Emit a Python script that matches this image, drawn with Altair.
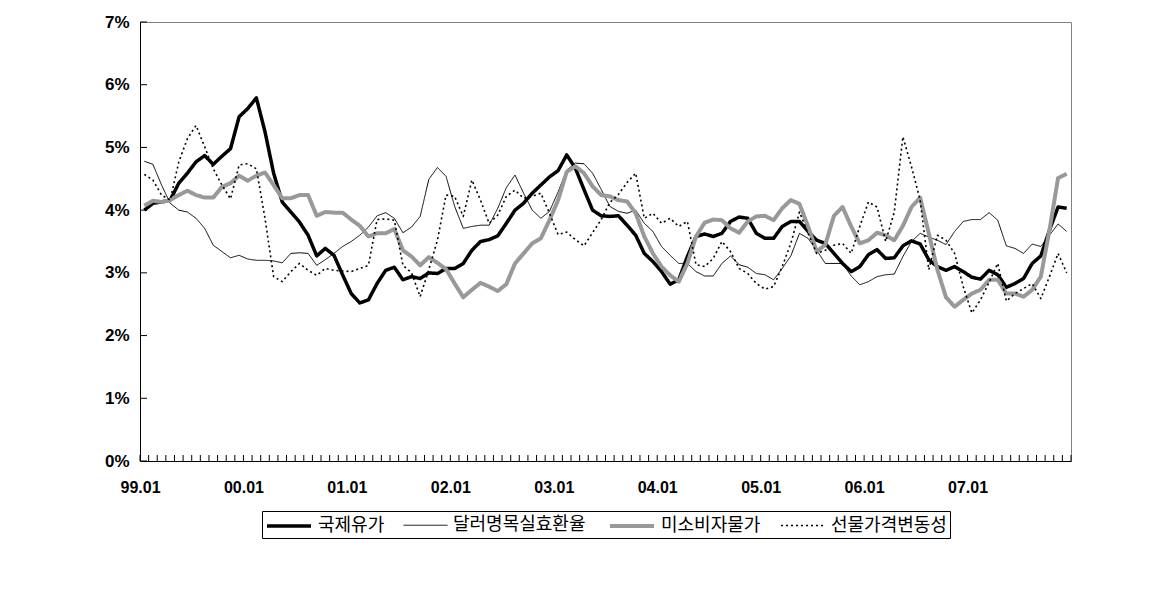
import altair as alt
import pandas as pd

series_names = ["국제유가", "달러명목실효환율", "미소비자물가", "선물가격변동성"]
year_labels = ["99.01", "00.01", "01.01", "02.01", "03.01", "04.01", "05.01", "06.01", "07.01"]

oil = [4.00, 4.11, 4.13, 4.16, 4.43, 4.59, 4.77, 4.87, 4.73, 4.86, 4.98, 5.49,
       5.62, 5.79, 5.25, 4.59, 4.13, 3.97, 3.81, 3.60, 3.27, 3.39, 3.28, 2.97,
       2.67, 2.52, 2.57, 2.83, 3.04, 3.09, 2.89, 2.94, 2.91, 3.00, 2.99, 3.07,
       3.07, 3.15, 3.36, 3.50, 3.53, 3.59, 3.79, 4.00, 4.11, 4.27, 4.40, 4.53,
       4.63, 4.88, 4.67, 4.33, 4.00, 3.91, 3.90, 3.91, 3.76, 3.60, 3.31, 3.18,
       3.02, 2.82, 2.89, 3.26, 3.58, 3.62, 3.58, 3.63, 3.82, 3.89, 3.87, 3.63,
       3.55, 3.55, 3.74, 3.82, 3.82, 3.66, 3.52, 3.47, 3.31, 3.15, 3.02, 3.10,
       3.29, 3.37, 3.23, 3.24, 3.43, 3.51, 3.46, 3.21, 3.10, 3.04, 3.10, 3.02,
       2.93, 2.90, 3.04, 2.97, 2.77, 2.83, 2.91, 3.15, 3.27, 3.68, 4.05, 4.03]

dollar = [4.78, 4.73, 4.40, 4.11, 4.00, 3.97, 3.87, 3.71, 3.44, 3.34, 3.24, 3.28,
          3.22, 3.20, 3.20, 3.19, 3.16, 3.31, 3.32, 3.31, 3.12, 3.21, 3.31, 3.42,
          3.50, 3.60, 3.73, 3.91, 3.96, 3.87, 3.64, 3.73, 3.90, 4.49, 4.68, 4.54,
          4.06, 3.71, 3.74, 3.76, 3.76, 4.03, 4.36, 4.56, 4.27, 4.00, 3.87, 3.98,
          4.29, 4.64, 4.75, 4.74, 4.59, 4.33, 4.06, 3.98, 3.95, 4.00, 3.79, 3.66,
          3.42, 3.28, 3.15, 3.15, 3.02, 2.95, 2.95, 3.15, 3.27, 3.13, 3.09, 2.99,
          2.97, 2.89, 3.07, 3.27, 3.63, 3.55, 3.36, 3.15, 3.15, 3.15, 2.95, 2.81,
          2.86, 2.94, 2.97, 2.98, 3.26, 3.50, 3.63, 3.57, 3.52, 3.45, 3.66, 3.82,
          3.85, 3.85, 3.96, 3.84, 3.43, 3.39, 3.31, 3.46, 3.42, 3.60, 3.78, 3.66]

cpi = [4.07, 4.15, 4.13, 4.16, 4.24, 4.31, 4.24, 4.20, 4.20, 4.37, 4.43, 4.55,
       4.47, 4.55, 4.60, 4.40, 4.19, 4.19, 4.24, 4.24, 3.91, 3.97, 3.96, 3.96,
       3.85, 3.75, 3.58, 3.63, 3.63, 3.70, 3.36, 3.26, 3.12, 3.25, 3.16, 3.06,
       2.83, 2.61, 2.73, 2.84, 2.78, 2.71, 2.82, 3.15, 3.31, 3.47, 3.55, 3.84,
       4.16, 4.61, 4.70, 4.59, 4.38, 4.24, 4.22, 4.16, 4.14, 3.95, 3.58, 3.31,
       3.10, 2.96, 2.86, 3.15, 3.58, 3.80, 3.85, 3.84, 3.71, 3.64, 3.82, 3.90,
       3.91, 3.84, 4.03, 4.16, 4.10, 3.74, 3.34, 3.45, 3.91, 4.05, 3.74, 3.47,
       3.52, 3.64, 3.60, 3.52, 3.75, 4.05, 4.20, 3.63, 3.05, 2.61, 2.46, 2.57,
       2.67, 2.73, 2.89, 2.89, 2.67, 2.67, 2.62, 2.73, 2.94, 3.68, 4.51, 4.58]

futures = [4.57, 4.48, 4.24, 4.16, 4.77, 5.14, 5.35, 5.01, 4.66, 4.40, 4.18, 4.72,
           4.74, 4.66, 3.87, 2.94, 2.86, 3.02, 3.15, 3.04, 2.96, 3.07, 3.04, 3.03,
           3.02, 3.07, 3.12, 3.85, 3.86, 3.84, 3.12, 3.00, 2.62, 3.05, 3.52, 4.24,
           4.22, 3.90, 4.48, 4.16, 3.79, 3.92, 4.22, 4.32, 4.19, 4.22, 4.27, 3.95,
           3.61, 3.65, 3.53, 3.43, 3.64, 3.85, 4.12, 4.25, 4.44, 4.59, 3.87, 3.95,
           3.79, 3.87, 3.74, 3.82, 3.13, 3.10, 3.23, 3.50, 3.34, 3.07, 2.99, 2.83,
           2.74, 2.78, 3.10, 3.47, 3.97, 3.63, 3.31, 3.36, 3.44, 3.47, 3.31, 3.74,
           4.13, 4.05, 3.50, 3.97, 5.17, 4.69, 4.16, 3.05, 3.60, 3.52, 3.31, 2.78,
           2.36, 2.57, 2.85, 3.15, 2.55, 2.67, 2.75, 2.83, 2.59, 2.94, 3.31, 3.00]

line_colors = ["#000000", "#000000", "#999999", "#000000"]
line_widths = [3.5, 1, 4, 1.6]
line_dashes = [[1, 0], [1, 0], [1, 0], [2, 3]]

n = len(oil)
rows = []
for name, vals in zip(series_names, [oil, dollar, cpi, futures]):
    for i, v in enumerate(vals):
        rows.append({"t": i, "series": name, "value": v})
df = pd.DataFrame(rows)

xticks = pd.DataFrame({"t": [k - 0.5 for k in range(n + 1)]})
yticks = pd.DataFrame({"value": list(range(8))})

W, H = 931, 439
xscale = alt.Scale(domain=[-0.5, n - 0.5], nice=False, zero=False)
yscale = alt.Scale(domain=[0, 7], nice=False)

label_arr = "[" + ",".join("'%s'" % s for s in year_labels) + "]"

x_axis = alt.Axis(values=[12 * k - 0.5 for k in range(len(year_labels))],
                  labelExpr=label_arr + "[round((datum.value + 0.5) / 12)]",
                  ticks=False, tickSize=0, grid=False, domainColor="black",
                  labelFont="Liberation Sans", labelFontWeight="bold",
                  labelFontSize=16, labelColor="black", labelPadding=18,
                  labelFlush=False, labelOverlap=False, title=None)
y_axis = alt.Axis(values=list(range(8)), labelExpr="datum.value + '%'",
                  ticks=False, tickSize=0, grid=False, domainColor="black",
                  labelFont="Liberation Sans", labelFontWeight="bold",
                  labelFontSize=17, labelColor="black", labelPadding=11, title=None)

lines = alt.Chart(df).mark_line(strokeJoin="round").encode(
    x=alt.X("t:Q", scale=xscale, axis=x_axis),
    y=alt.Y("value:Q", scale=yscale, axis=y_axis),
    color=alt.Color("series:N", scale=alt.Scale(domain=series_names, range=line_colors),
                    legend=alt.Legend(title=None)),
    strokeWidth=alt.StrokeWidth("series:N",
                                scale=alt.Scale(type="ordinal", domain=series_names, range=line_widths),
                                legend=alt.Legend(title=None)),
    strokeDash=alt.StrokeDash("series:N", scale=alt.Scale(domain=series_names, range=line_dashes),
                              legend=alt.Legend(title=None)),
    order=alt.Order("t:Q"),
)

xtick_layer = alt.Chart(xticks).mark_rule(color="black", strokeWidth=1).encode(
    x=alt.X("t:Q", scale=xscale, axis=x_axis),
    y=alt.value(H),
    y2=alt.value(H - 6),
)

ytick_layer = alt.Chart(yticks).mark_rule(color="black", strokeWidth=1).encode(
    y=alt.Y("value:Q", scale=yscale, axis=y_axis),
    x=alt.value(0),
    x2=alt.value(7),
)

chart = alt.layer(lines, xtick_layer, ytick_layer).properties(
    width=W, height=H,
    autosize=alt.AutoSizeParams(type="none"),
    padding={"left": 140, "top": 22, "right": 87, "bottom": 133},
).configure_view(
    stroke="#808080", strokeWidth=1
).configure_legend(
    orient="none", legendX=122, legendY=489, direction="horizontal",
    symbolType="M-1,0L3.4,0", symbolSize=400, symbolStrokeColor="black",
    strokeColor="black", fillColor="white", padding=3,
    labelFont="Noto Sans CJK KR", labelFontSize=18, labelColor="black",
    labelOffset=29, columnPadding=16, labelLimit=300,
)

chart.save("out.html", embed_options={"renderer": "svg", "actions": False})
